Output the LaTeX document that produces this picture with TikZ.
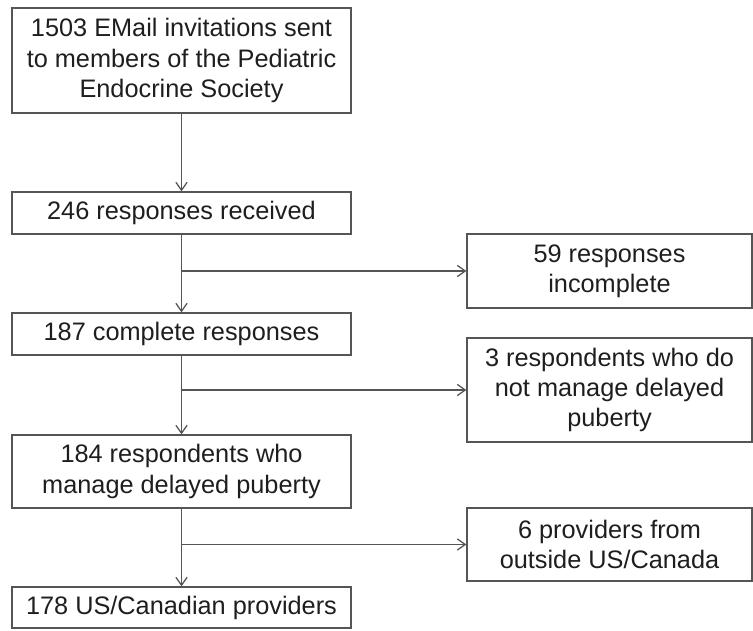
\documentclass[tikz,border=0pt]{standalone}
\usepackage{fontspec}
\setmainfont{Liberation Sans}
\usetikzlibrary{arrows.meta}
\definecolor{linegray}{HTML}{555555}
\definecolor{txtgray}{HTML}{1E1E1E}

\begin{document}
\begin{tikzpicture}[
    box/.style={draw=linegray, line width=0.9pt, align=center, inner sep=0pt,
      minimum width=8.475cm, text=txtgray, font=\fontsize{18}{21.5}\selectfont},
    side/.style={box, minimum width=7.125cm},
    >={Straight Barb[length=2mm,width=2.8mm]}]
  \useasboundingbox (0,0) rectangle (18.825,-15.775);

  % main column
  \node[box, minimum height=2.625cm] (invite) at (4.5375,-1.5125) {1503 EMail invitations sent\\to members of the Pediatric\\Endocrine Society};
  \node[box, minimum height=1.05cm] (received) at (4.5375,-5.325) {246 responses received};
  \node[box, minimum height=1.05cm] (complete) at (4.5375,-8.35) {187 complete responses};
  \node[box, minimum height=1.825cm] (manage) at (4.5375,-11.7875) {184 respondents who\\manage delayed puberty};
  \node[box, minimum height=1.025cm] (us) at (4.5375,-15.1875) {178 US/Canadian providers};

  % excluded
  \node[side, minimum height=1.85cm] (incomplete) at (15.2375,-6.775) {59 responses\\incomplete};
  \node[side, minimum height=2.6cm] (notmanage) at (15.2375,-9.75) {3 respondents who do\\not manage delayed\\puberty};
  \node[side, minimum height=1.825cm] (outside) at (15.2375,-13.6125) {6 providers from\\outside US/Canada};

  \draw [->, draw=linegray, line width=0.9pt] (invite) -- (received);
  \draw [->, draw=linegray, line width=0.9pt] (received) -- (complete);
  \draw [->, draw=linegray, line width=0.9pt] (complete) -- (manage);
  \draw [->, draw=linegray, line width=0.9pt] (manage) -- (us);

  \draw [->, draw=linegray, line width=0.9pt] (received.south |- incomplete.west) -- (incomplete.west);
  \draw [->, draw=linegray, line width=0.9pt] (complete.south |- notmanage.west) -- (notmanage.west);
  \draw [->, draw=linegray, line width=0.9pt] (manage.south |- outside.west) -- (outside.west);
\end{tikzpicture}
\end{document}
